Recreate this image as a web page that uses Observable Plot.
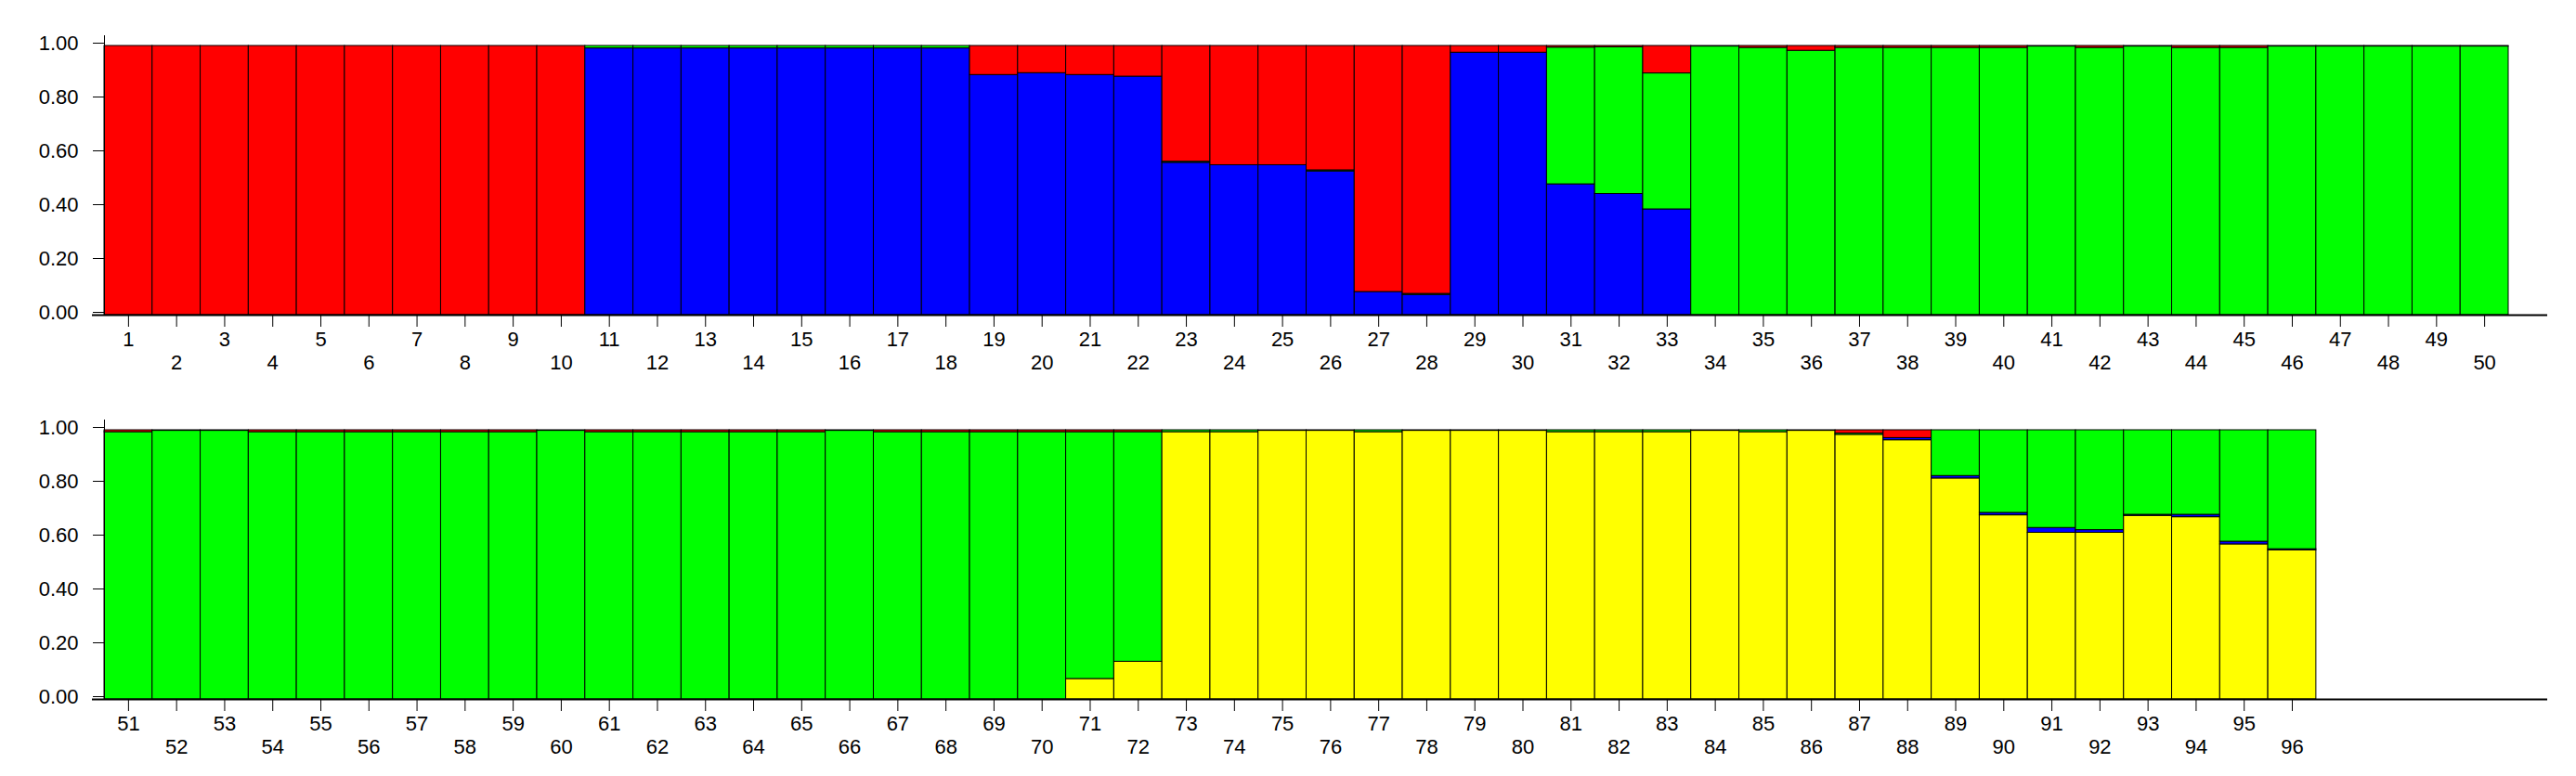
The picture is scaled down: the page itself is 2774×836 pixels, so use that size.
<!DOCTYPE html>
<html>
<head>
<meta charset="utf-8">
<script src="https://cdn.jsdelivr.net/npm/d3@7"></script>
<script src="https://cdn.jsdelivr.net/npm/@observablehq/plot@0.6"></script>
<style>
  html, body { margin: 0; padding: 0; background: #ffffff; }
  #chart { width: 2774px; }
  #chart svg { display: block; }
</style>
</head>
<body>
<div id="chart"></div>
<script>
// Clusters, listed bottom-to-top as stacked in each bar
const clusters = ["Cluster 1", "Cluster 2", "Cluster 3", "Cluster 4"];
const clusterColors = ["#ffff00", "#0000ff", "#00ff00", "#ff0000"];

// Individuals (x categories) per row
const row1Ids = d3.range(1, 51);
const row2Ids = d3.range(51, 97);
const row2Slots = d3.range(51, 101); // 50 slots, last 4 empty

// Y tick labels
const yTicks = [0, 0.2, 0.4, 0.6, 0.8, 1.0];

// Membership coefficients, individuals 1..96
const yellow = [
  0,0,0,0,0,0,0,0,0,0,
  0,0,0,0,0,0,0,0,0,0,
  0,0,0,0,0,0,0,0,0,0,
  0,0,0,0,0,0,0,0,0,0,
  0,0,0,0,0,0,0,0,0,0,
  0,0,0,0,0,0,0,0,0,0,
  0,0,0,0,0,0,0,0,0,0,
  0.076,0.140,
  0.993,0.993,0.998,0.998,0.993,0.998,0.998,0.998,0.993,0.993,0.993,0.998,0.993,0.998,
  0.983,0.963,0.821,0.684,0.619,0.619,0.682,0.677,0.576,0.554
];
const blue = [
  0,0,0,0,0,0,0,0,0,0,
  0.991,0.991,0.991,0.991,0.991,0.991,0.991,0.991,
  0.892,0.899,0.892,0.886,0.566,0.557,0.557,0.534,0.086,0.075,0.975,0.975,0.486,0.450,0.393,
  0,0,0,0,0,0,0,0,0,0,0,0,0,0,0,0,0,
  0,0,0,0,0,0,0,0,0,0,0,0,0,0,0,0,0,0,0,0,
  0,0,0,0,0,0,0,0,0,0,0,0,0,0,0,0,0,
  0.008,0.009,0.009,0.018,0.010,0.004,0.009,0.010,0.004
];
const green = [
  0,0,0,0,0,0,0,0,0,0,
  0.009,0.009,0.009,0.009,0.009,0.009,0.009,0.009,
  0,0,0,0,0.004,0,0,0.004,0,0.004,0,0,0.508,0.545,0.505,
  0.998,0.993,0.982,0.993,0.993,0.993,0.993,0.998,0.993,0.998,0.993,0.993,0.998,0.998,0.998,0.998,0.998,
  0.993,0.998,0.998,0.993,0.993,0.993,0.993,0.993,0.993,0.998,0.993,0.993,0.993,0.993,0.993,0.998,0.993,0.993,0.993,0.993,
  0.917,0.853,
  0.007,0.007,0.002,0.002,0.007,0.002,0.002,0.002,0.007,0.007,0.007,0.002,0.007,0.002,
  0.005,0,0.170,0.307,0.363,0.371,0.314,0.314,0.414,0.442
];
const red = [
  1,1,1,1,1,1,1,1,1,1,
  0,0,0,0,0,0,0,0,
  0.108,0.101,0.108,0.114,0.430,0.443,0.443,0.462,0.914,0.921,0.025,0.025,0.006,0.005,0.102,
  0.002,0.007,0.018,0.007,0.007,0.007,0.007,0.002,0.007,0.002,0.007,0.007,0.002,0.002,0.002,0.002,0.002,
  0.007,0.002,0.002,0.007,0.007,0.007,0.007,0.007,0.007,0.002,0.007,0.007,0.007,0.007,0.007,0.002,0.007,0.007,0.007,0.007,
  0.007,0.007,
  0,0,0,0,0,0,0,0,0,0,0,0,0,0,
  0.012,0.029,0,0,0,0,0,0,0,0
];

const seriesValues = [yellow, blue, green, red];
const allIds = d3.range(1, 97);
const table = [];
allIds.forEach((id, i) => {
  clusters.forEach((c, k) => {
    const v = seriesValues[k][i];
    if (v > 0) table.push({id, cluster: c, value: v});
  });
});

function panel(slots, ids, marginTop, marginBottom) {
  const rows = table.filter(d => d.id >= slots[0] && d.id <= slots[slots.length - 1]);
  const odd = ids.filter((d, i) => i % 2 === 0);
  const even = ids.filter((d, i) => i % 2 === 1);
  return Plot.plot({
    width: 2774,
    height: 418,
    marginLeft: 112,
    marginRight: 73,
    marginTop,
    marginBottom,
    style: {fontFamily: "'Liberation Sans', Arial, sans-serif", fontSize: "22px", color: "#000", background: "#fff"},
    x: {type: "band", domain: slots, padding: 0, axis: null},
    y: {domain: [0, 1], axis: null},
    color: {type: "ordinal", domain: clusters, range: clusterColors},
    marks: [
      Plot.barY(rows, {x: "id", y: "value", z: "cluster", fill: "cluster", order: clusters, stroke: "#000", strokeWidth: 1}),
      Plot.ruleY([0], {stroke: "#000", strokeWidth: 2, insetLeft: -13, insetRight: -42}),
      Plot.frame({anchor: "left", stroke: "#000", strokeWidth: 1, insetTop: -11}),
      Plot.axisY({ticks: yTicks, tickFormat: d3.format(".2f"), tickSize: 12, tickPadding: 16, dy: -3, label: null}),
      Plot.axisX({ticks: odd, tickSize: 13, tickPadding: 5, label: null}),
      Plot.axisX({ticks: even, tickSize: 13, tickPadding: 30, label: null})
    ]
  });
}

const chart = document.getElementById("chart");
chart.appendChild(panel(row1Ids, row1Ids, 49, 79));
chart.appendChild(panel(row2Slots, row2Ids, 45, 83));
</script>
</body>
</html>
